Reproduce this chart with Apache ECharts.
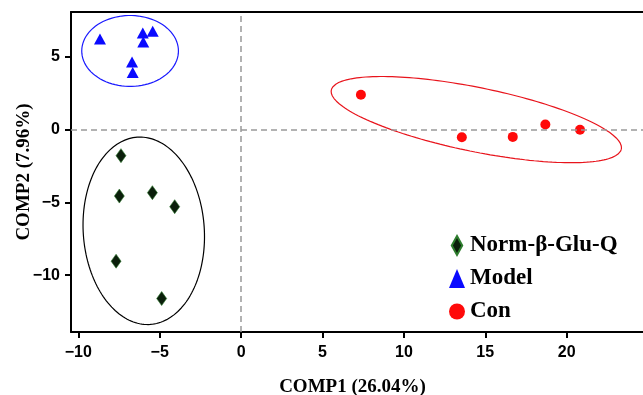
<!DOCTYPE html>
<html>
<head>
<meta charset="utf-8">
<script src="https://cdn.jsdelivr.net/npm/echarts@6/dist/echarts.min.js"></script>
<style>html,body{margin:0;padding:0;background:#fff}#c{width:643px;height:395px}</style>
</head>
<body>
<div id="c"></div>
<script>
// ---- data ----
var seriesNames = ['Norm-\u03b2-Glu-Q', 'Model', 'Con'];
var normPoints = [[-7.38, -1.78], [-7.48, -4.56], [-5.45, -4.33], [-4.08, -5.29], [-7.68, -9.04], [-4.88, -11.61]];
var modelPoints = [[-8.67, 6.24], [-6.04, 6.66], [-5.43, 6.77], [-6.01, 6.04], [-6.70, 4.66], [-6.66, 3.94]];
var conPoints = [[7.36, 2.41], [13.56, -0.51], [16.69, -0.49], [18.69, 0.36], [20.82, 0.0]];
// confidence ellipses: centre and two conjugate semi-axis vectors (data units)
var normEllipse = {center: [-5.98, -6.95], u: [-0.40, 6.44], v: [3.71, 0.29]};
var modelEllipse = {center: [-6.82, 5.42], u: [2.97, 0], v: [0, 2.44]};
var conEllipse = {center: [14.45, 0.70], u: [8.91, -2.03], v: [-0.39, -2.16]};
var xTicks = [-10, -5, 0, 5, 10, 15, 20];
var yTicks = [-10, -5, 0, 5];
var xTitle = 'COMP1 (26.04%)';
var yTitle = 'COMP2 (7.96%)';

function ellipsePath(e) {
  var pts = [];
  var n = 180;
  for (var i = 0; i <= n; i++) {
    var t = 2 * Math.PI * i / n;
    pts.push([
      e.center[0] + e.u[0] * Math.cos(t) + e.v[0] * Math.sin(t),
      e.center[1] + e.u[1] * Math.cos(t) + e.v[1] * Math.sin(t)
    ]);
  }
  return pts;
}
function fmt(v) { return v < 0 ? '\u2212' + Math.abs(v) : String(v); }

var serif = '"Liberation Serif","Times New Roman",serif';
var sans = '"Liberation Sans",Arial,sans-serif';

function ellipseSeries(e, color) {
  return {
    type: 'line', data: ellipsePath(e), showSymbol: false, symbol: 'none',
    silent: true, z: 1, lineStyle: {color: color, width: 1.2}, animation: false
  };
}

var chart = echarts.init(document.getElementById('c'), null, {renderer: 'canvas'});
chart.setOption({
  animation: false,
  backgroundColor: '#fff',
  grid: {left: 71, top: 12, right: 0, bottom: 63, containLabel: false, outerBoundsMode: 'none'},
  legend: {
    data: [
      {name: seriesNames[0], icon: 'path://M5.5,0L11,10L5.5,20L0,10Z'},
      {name: seriesNames[1], icon: 'triangle'},
      {name: seriesNames[2], icon: 'circle'}
    ],
    orient: 'vertical', left: 444, top: 229, symbolKeepAspect: true,
    itemWidth: 16, itemHeight: 19, itemGap: 10,
    textStyle: {fontFamily: serif, fontWeight: 'bold', fontSize: 23, color: '#000'}
  },
  xAxis: [{
    type: 'value', min: -10.45, max: 24.69,
    name: xTitle, nameLocation: 'middle', nameGap: 46, nameMoveOverlap: false,
    nameTextStyle: {fontFamily: serif, fontWeight: 'bold', fontSize: 19, color: '#000', padding: [0, 9, 0, 0]},
    axisLine: {onZero: false, lineStyle: {color: '#000', width: 2}},
    axisTick: {show: true, length: 6, customValues: xTicks, lineStyle: {color: '#000', width: 2}},
    axisLabel: {customValues: xTicks, formatter: fmt, margin: 13,
      fontFamily: sans, fontWeight: 'bold', fontSize: 16, color: '#000'},
    splitLine: {show: false}
  }, {
    type: 'value', position: 'top', min: -10.45, max: 24.69,
    axisLine: {show: true, onZero: false, lineStyle: {color: '#000', width: 2}},
    axisTick: {show: false}, axisLabel: {show: false}, splitLine: {show: false}
  }],
  yAxis: {
    type: 'value', min: -13.91, max: 8.10,
    name: yTitle, nameLocation: 'middle', nameGap: 37, nameRotate: 90, nameMoveOverlap: false,
    nameTextStyle: {fontFamily: serif, fontWeight: 'bold', fontSize: 19, color: '#000'},
    axisLine: {onZero: false, lineStyle: {color: '#000', width: 2}},
    axisTick: {show: true, length: 6, customValues: yTicks, lineStyle: {color: '#000', width: 2}},
    axisLabel: {customValues: yTicks, formatter: fmt, margin: 11,
      fontFamily: sans, fontWeight: 'bold', fontSize: 16, color: '#000'},
    splitLine: {show: false}
  },
  series: [
    ellipseSeries(normEllipse, '#000000'),
    ellipseSeries(modelEllipse, '#1a1aff'),
    ellipseSeries(conEllipse, '#e8141c'),
    {
      name: seriesNames[0], type: 'scatter', data: normPoints, symbol: 'diamond', symbolSize: [10, 14], z: 3,
      itemStyle: {color: '#0b1f0b', borderColor: '#2e7d2e', borderWidth: 0.6, opacity: 1},
      markLine: {
        silent: true, symbol: 'none', label: {show: false}, animation: false,
        lineStyle: {color: '#999', width: 1.5, type: [6, 4]},
        data: [{xAxis: 0}, {yAxis: 0}]
      }
    },
    {
      name: seriesNames[1], type: 'scatter', data: modelPoints, symbol: 'triangle', symbolSize: [12, 11], z: 3,
      itemStyle: {color: '#0a0aff', opacity: 1}
    },
    {
      name: seriesNames[2], type: 'scatter', data: conPoints, symbol: 'circle', symbolSize: 10, z: 3,
      itemStyle: {color: '#ff0a0a', opacity: 1}
    }
  ]
});
</script>
</body>
</html>
